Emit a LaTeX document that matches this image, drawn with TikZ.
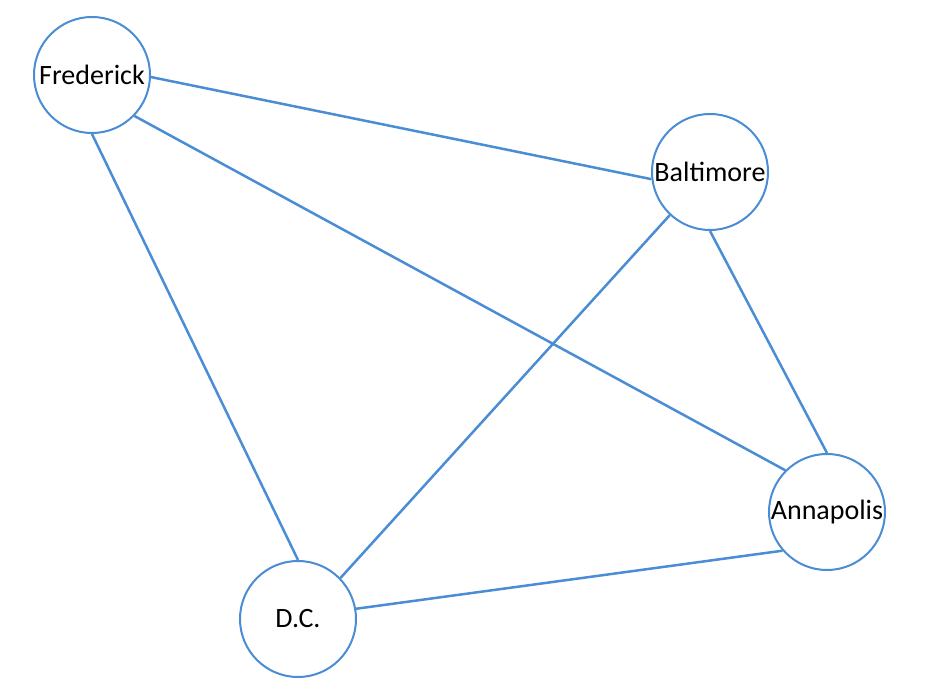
\documentclass[tikz,border=0pt]{standalone}
\usepackage{fontspec}
\setmainfont{Carlito}
\usepackage{tikz}
\usepackage{xcolor}
\definecolor{cityblue}{RGB}{74, 141, 212}

\begin{document}
\begin{tikzpicture}[
    x=1pt, y=-1pt,
    font=\fontsize{28}{31}\selectfont,
    city/.style={circle, draw=cityblue, fill=white, line width=2pt,
        minimum size=116pt, inner sep=0pt},
    road/.style={cityblue, line width=2.5pt}
]

    % ==========================================
    % CANVAS
    % ==========================================
    \useasboundingbox (0, 0) rectangle (940, 692);

    % ==========================================
    % COORDINATES
    % ==========================================
    \coordinate (frederick_c) at (92, 75);
    \coordinate (baltimore_c) at (710, 172);
    \coordinate (annapolis_c) at (827, 512);
    \coordinate (dc_c) at (298, 619);

    % ==========================================
    % CITIES
    % ==========================================
    \node[city] (frederick) at (frederick_c) {Frederick};
    \node[city] (baltimore) at (baltimore_c) {Baltimore};
    \node[city] (annapolis) at (annapolis_c) {Annapolis};
    \node[city] (dc) at (dc_c) {D.C.};

    % ==========================================
    % ROADS (ends picked by angle on each circle)
    % ==========================================
    \draw[road] (frederick.-2) -- (baltimore.187);
    \draw[road] (frederick.-44) -- (annapolis.135);
    \draw[road] (frederick.south) -- (dc.north);
    \draw[road] (baltimore.227) -- (dc.44);
    \draw[road] (baltimore.south) -- (annapolis.north);
    \draw[road] (annapolis.221) -- (dc.10);

\end{tikzpicture}
\end{document}
